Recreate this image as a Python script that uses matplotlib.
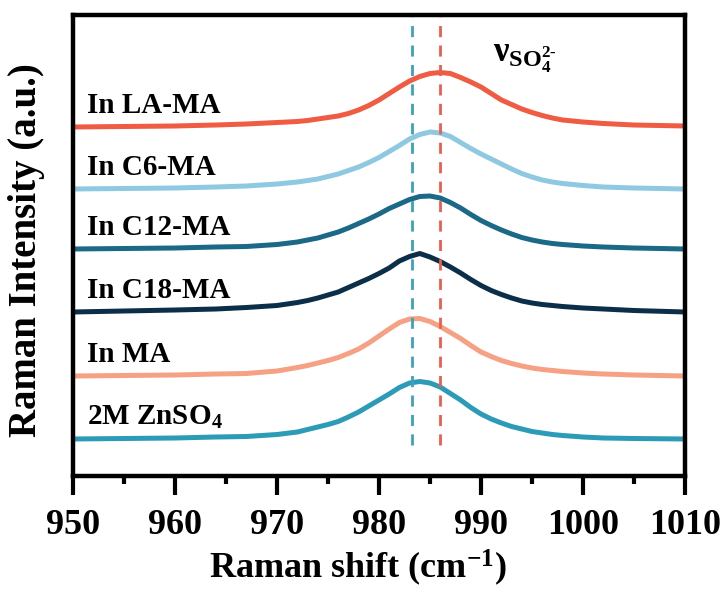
import numpy as np
import matplotlib
matplotlib.use("Agg")
import matplotlib.pyplot as plt
from matplotlib.ticker import MultipleLocator

plt.rcParams['font.family'] = ['Liberation Serif', 'DejaVu Serif']
plt.rcParams['font.weight'] = 'bold'
plt.rcParams['mathtext.fontset'] = 'custom'
plt.rcParams['mathtext.rm'] = 'Liberation Serif:bold'
plt.rcParams['mathtext.it'] = 'Liberation Serif:bold'
plt.rcParams['mathtext.bf'] = 'Liberation Serif:bold'

# Raman shift (cm-1)
shift = [950, 955, 960, 964, 967, 970, 972,
         973, 974, 975, 976, 977, 978, 979, 980, 981, 982, 983, 984, 985,
         986, 987, 988, 989, 990, 991, 992, 993, 994, 995, 996, 997, 998,
         1000, 1002, 1005, 1010]

# intensities above each trace's own baseline (a.u.)
la_ma = [0, 0.5, 1, 2, 3, 4.5, 5.5,
         6.5, 8, 9.5, 11, 13.5, 17, 21.5, 27, 33.5, 40, 46, 50.5, 53.5,
         54.5, 53.5, 49.5, 45, 40, 33.5, 27, 22.5, 18, 14.5, 11.5, 9, 7,
         5, 3.5, 2, 1]
c6_ma = [0, 0.5, 1, 2, 3, 5, 7,
         8.5, 10, 12.5, 15, 18.5, 22, 26.5, 31.5, 37.5, 43.5, 50, 54.5, 57,
         56, 52.5, 46.5, 40.5, 35, 30, 25, 20, 15.5, 12, 9, 7, 5.5,
         3.5, 2, 1, 0]
c12_ma = [0, 0.5, 1, 2, 2.5, 4.5, 7,
          9, 11, 14, 17, 21, 25.5, 30, 35, 40.5, 45, 49.5, 52.5, 53,
          51, 46.5, 41, 34.5, 28.5, 23.5, 19, 15, 11.5, 9, 7, 5.5, 4.5,
          3, 2, 1, 0]
c18_ma = [0, 1, 2, 3, 4.5, 6.5, 9.5,
          11.5, 14, 17, 20, 24.5, 29, 33.5, 38.5, 44, 51, 55.5, 58.5, 55,
          50.5, 45, 39, 32.5, 26.5, 21.5, 17.5, 14, 11, 9, 7.5, 6.5, 5.5,
          4, 3, 1.5, 0]
ma = [0, 0.5, 1, 2, 2.5, 5, 8.5,
      10.5, 13, 15.5, 18.5, 22.5, 27, 33, 40, 47, 53.5, 57, 57.5, 54.5,
      49.5, 43.5, 37.5, 30.5, 24, 19.5, 15.5, 12.5, 10, 8, 6.5, 5.5, 4.5,
      3, 2, 1, 0]
znso4 = [0, 0.5, 1, 2, 2.5, 4.5, 7,
         9.5, 12, 14.5, 17.5, 22, 27, 33, 39, 45, 51.5, 56, 57.5, 56,
         52, 45.5, 39, 31.5, 25, 20, 16, 12.5, 10, 7.5, 6, 4.5, 3.5,
         2, 1, 0.5, 0]

labels = ['In LA-MA', 'In C6-MA', 'In C12-MA', 'In C18-MA', 'In MA', r'2M ZnSO$_4$']
offsets = [349, 287, 227, 164, 100, 37]
colors = ['#EF5B43', '#8FC8E1', '#1B6887', '#0B2F48', '#F6A084', '#2C9BB7']
spectra = [la_ma, c6_ma, c12_ma, c18_ma, ma, znso4]

# peak positions marked with dashed lines
peak_blue = 983.2
peak_red = 986.0

fig = plt.figure(figsize=(7.28, 5.90), dpi=100)
ax = fig.add_axes([73 / 728, 1 - 476 / 590, 612 / 728, 461 / 590])

for y, off, c, lab in zip(spectra, offsets, colors, labels):
    ax.plot(shift, np.array(y) + off, color=c, lw=3.6,
            solid_capstyle='butt', solid_joinstyle='round')
    ax.text(951.4, off + 14, lab, fontsize=21, fontweight='bold', va='baseline', ha='left')

ax.vlines(peak_blue, 31, 459, colors='#3AA2BF', lw=2, linestyles=(0, (4, 3)))
ax.vlines(peak_red, 31, 459, colors='#E8604C', lw=2, linestyles=(0, (4, 3)))
ax.text(991.2, 414, r'$\nu_{\rm SO_4^{2\text{-}}}$', fontsize=25, va='baseline', ha='left')

ax.set_xlim(950, 1010)
ax.set_ylim(0, 461)
ax.xaxis.set_major_locator(MultipleLocator(10))
ax.xaxis.set_minor_locator(MultipleLocator(5))
ax.tick_params(axis='x', which='major', direction='out', length=14, width=3,
               labelsize=26, pad=10)
ax.tick_params(axis='x', which='minor', direction='out', length=6, width=3)
ax.set_yticks([])
for s in ax.spines.values():
    s.set_linewidth(3.2)

ax.set_xlabel(r'Raman shift (cm$^{-1}$)', fontsize=26, fontweight='bold')
ax.set_ylabel('Raman Intensity (a.u.)', fontsize=28, fontweight='bold')
ax.xaxis.set_label_coords(0.466, -0.155)
ax.yaxis.set_label_coords(-0.045, 0.49)

fig.savefig('out.png', dpi=100)
